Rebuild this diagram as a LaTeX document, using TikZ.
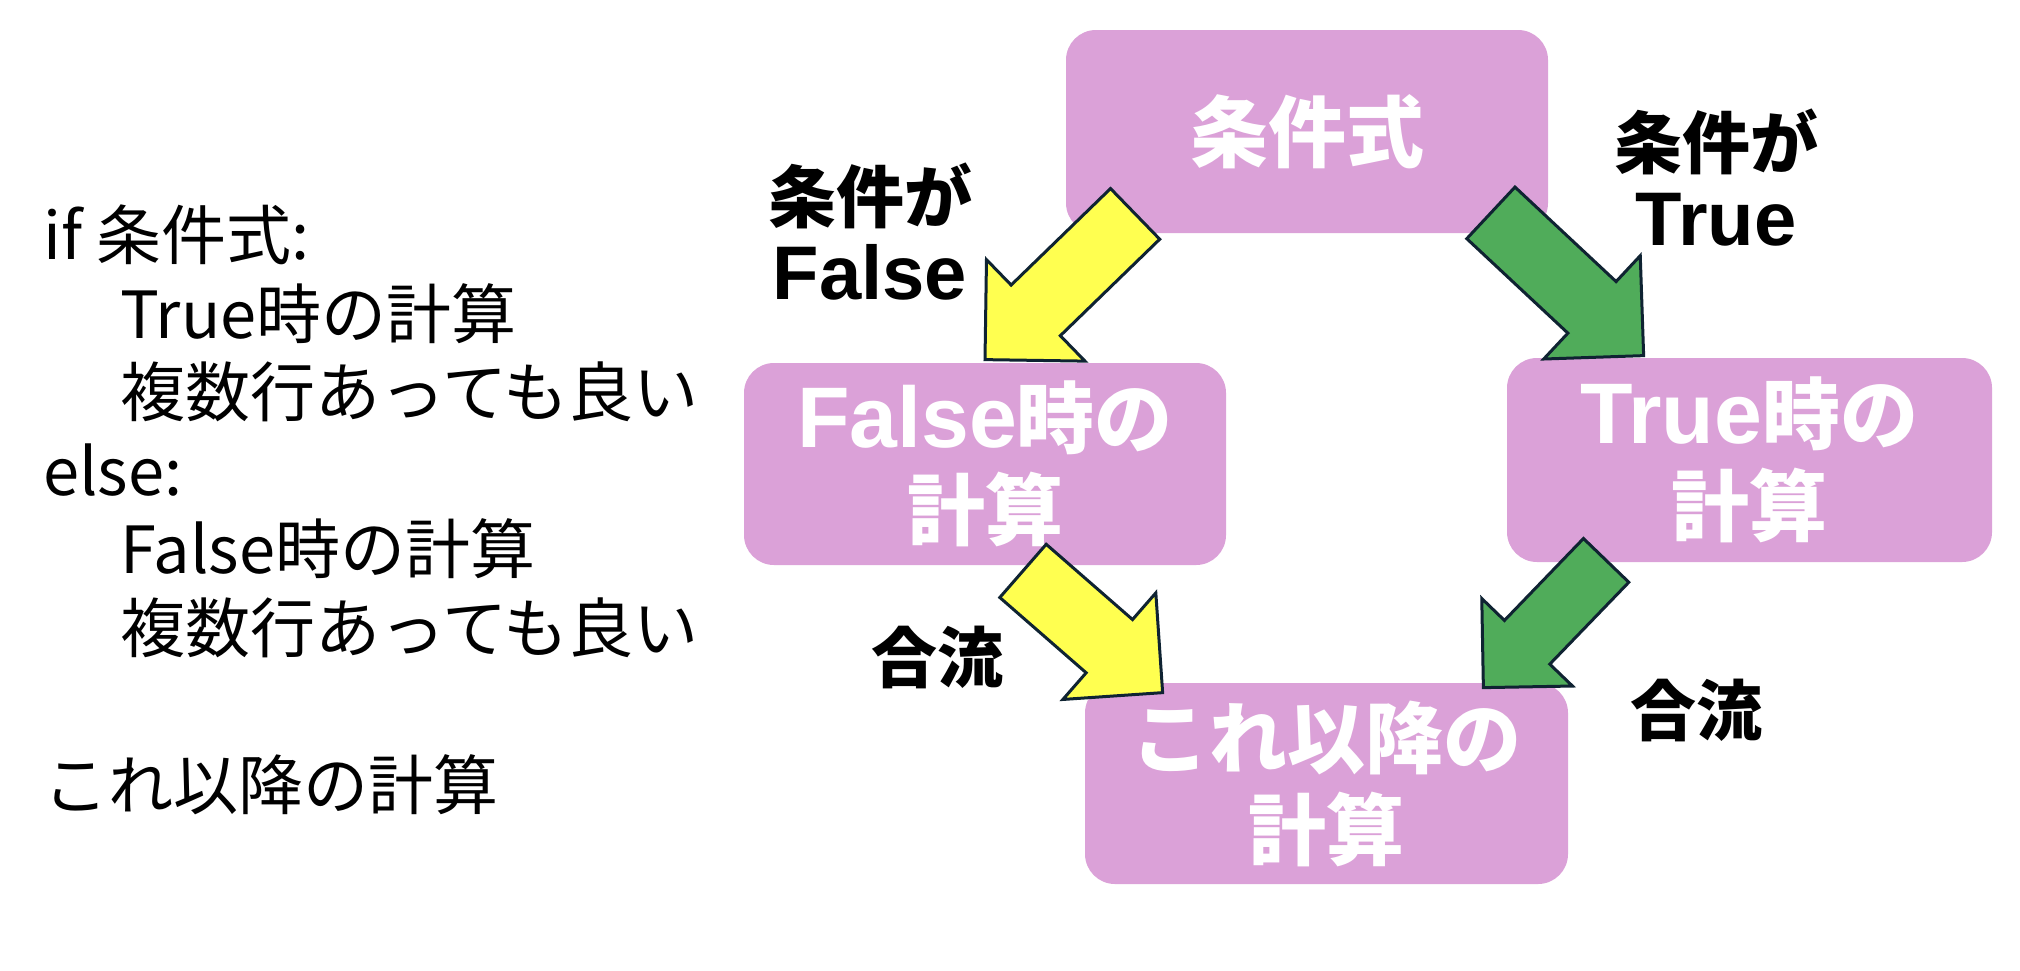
\documentclass[tikz,border=0pt]{standalone}
\usepackage{fontspec}
\usepackage{tikz}
\usetikzlibrary{calc}
\newfontfamily\jp{Noto Sans CJK JP}
\newfontfamily\lat{Liberation Sans}
\definecolor{boxpink}{RGB}{219, 161, 216}
\definecolor{arrowyellow}{RGB}{255, 255, 80}
\definecolor{arrowgreen}{RGB}{80, 172, 90}
\definecolor{arrowline}{RGB}{15, 35, 50}
\newcommand{\boxlatin}[1]{{\lat\fontsize{86}{94}\selectfont #1}}
\newcommand{\labellatin}[1]{{\lat\fontsize{76}{77}\selectfont #1}}
\tikzset{every picture/.style={line width=0.75pt}}
\tikzset{
  calcbox/.style={fill=boxpink, rounded corners=30pt, inner sep=0pt, align=center, text=white, font=\jp\bfseries\fontsize{78}{92}\selectfont},
  flowlabel/.style={inner sep=0pt, align=center, font=\jp\bfseries\fontsize{68}{77}\selectfont},
  bigarrowline/.style={draw=arrowline, line width=3pt, line join=miter}
}
% block arrow: tail, tip, fill, half shaft width, head length
\newcommand{\blockarrow}[5]{%
  \coordinate (ba-t) at (#1);
  \coordinate (ba-p) at (#2);
  \coordinate (ba-b) at ($(ba-p)!#5!(ba-t)$);
  \draw [bigarrowline, fill=#3] ($(ba-t)!#4!90:(ba-p)$) -- ($(ba-b)!#4!90:(ba-p)$) -- ($(ba-b)!#5!90:(ba-p)$) -- (ba-p) -- ($(ba-b)!#5!-90:(ba-p)$) -- ($(ba-b)!#4!-90:(ba-p)$) -- ($(ba-t)!#4!-90:(ba-p)$) -- cycle ;
}

\begin{document}
\begin{tikzpicture}[x=1pt,y=1pt,yscale=-1]
\fill [white] (0,0) rectangle (2020,970);
\useasboundingbox (0,0) rectangle (2020,970);

% Text Node
\node [anchor=west, inner sep=0pt, align=left, font=\jp\fontsize{65}{78.5}\selectfont] (code) at (43,510) {if 条件式:\\
\hspace*{77pt}True時の計算\\
\hspace*{77pt}複数行あっても良い\\
else:\\
\hspace*{77pt}False時の計算\\
\hspace*{77pt}複数行あっても良い\\[78.5pt]
これ以降の計算};

%Shape: Rounded Rect
\node [calcbox, minimum width=482, minimum height=203] (cond) at (1307,131.5) {条件式};
\node [calcbox, minimum width=482, minimum height=202] (fcalc) at (985,464) {\boxlatin{False}時の\\計算};
\node [calcbox, minimum width=485, minimum height=204] (tcalc) at (1749.5,460) {\boxlatin{True}時の\\計算};
\node [calcbox, minimum width=483, minimum height=201] (after) at (1326.5,783.5) {これ以降の\\計算};

%Block Arrows
\blockarrow{$(cond.south west)+(69.5,-19.5)$}{$(fcalc.north)+(0,-3)$}{arrowyellow}{35.3pt}{70.7pt}
\blockarrow{$(cond.south east)+(-57.5,-20.5)$}{$(tcalc.north west)+(137,-2)$}{arrowgreen}{35.3pt}{70.7pt}
\blockarrow{$(fcalc.south)+(38,5.5)$}{$(after.north west)+(78,10)$}{arrowyellow}{35.3pt}{70.7pt}
\blockarrow{$(tcalc.south west)+(99.5,-2)$}{$(after.north east)+(-85,5)$}{arrowgreen}{31.5pt}{63pt}

% Text Node
\node [flowlabel] (lfalse) at (870,232) {条件が\\\labellatin{False}};
\node [flowlabel] (ltrue) at (1716,178) {条件が\\\labellatin{True}};
\node [flowlabel, font=\jp\bfseries\fontsize{66}{80}\selectfont] (lmergef) at (937,657) {合流};
\node [flowlabel, font=\jp\bfseries\fontsize{66}{80}\selectfont] (lmerget) at (1696,710) {合流};

\end{tikzpicture}
\end{document}
